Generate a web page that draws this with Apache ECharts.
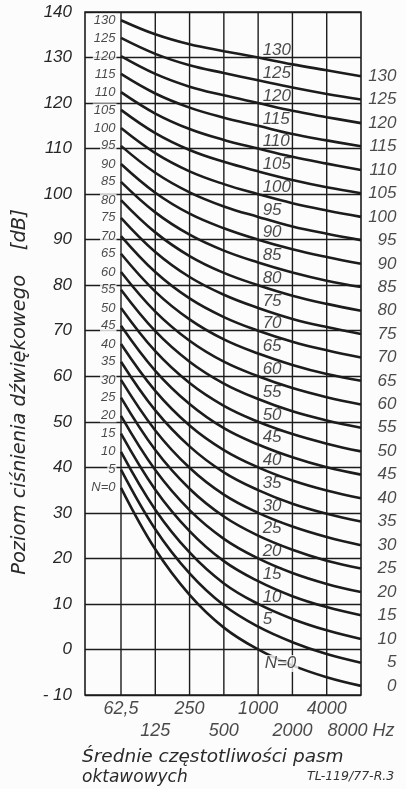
<!DOCTYPE html>
<html><head><meta charset="utf-8">
<script src="https://cdn.jsdelivr.net/npm/echarts@6/dist/echarts.min.js"></script>
<style>html,body{margin:0;padding:0;background:#fcfcfc}#c{width:406px;height:789px}</style>
</head><body><div id="c"></div><script>
// Octave band centre frequencies (x categories)
const freqLabels = ['62,5', '125', '250', '500', '1000', '2000', '4000', '8000 Hz'];
// Noise rating numbers of the curves
const nLevels = [0, 5, 10, 15, 20, 25, 30, 35, 40, 45, 50, 55, 60, 65, 70, 75, 80, 85, 90, 95, 100, 105, 110, 115, 120, 125, 130];
// Sound pressure level [dB] of each curve at 62.5 ... 8000 Hz
const N0   = [35.5, 22.0, 12.0, 4.8, 0, -3.5, -6.1, -8.0];
const N5   = [39.5, 26.4, 16.7, 9.7, 5, 1.6, -1.0, -2.9];
const N10  = [43.4, 30.7, 21.3, 14.5, 10, 6.7, 4.2, 2.3];
const N15  = [47.4, 35.1, 26.0, 19.4, 15, 11.7, 9.3, 7.5];
const N20  = [51.3, 39.4, 30.6, 24.3, 20, 16.8, 14.4, 12.6];
const N25  = [55.3, 43.8, 35.3, 29.2, 25, 21.9, 19.5, 17.8];
const N30  = [59.2, 48.1, 39.9, 34.0, 30, 27.0, 24.7, 22.9];
const N35  = [63.2, 52.5, 44.6, 38.9, 35, 32.0, 29.8, 28.1];
const N40  = [67.1, 56.8, 49.2, 43.8, 40, 37.1, 34.9, 33.2];
const N45  = [71.1, 61.2, 53.9, 48.6, 45, 42.2, 40.0, 38.4];
const N50  = [75.0, 65.5, 58.5, 53.5, 50, 47.3, 45.2, 43.5];
const N55  = [79.0, 69.9, 63.2, 58.4, 55, 52.3, 50.3, 48.7];
const N60  = [82.9, 74.2, 67.8, 63.2, 60, 57.4, 55.4, 53.8];
const N65  = [86.9, 78.6, 72.5, 68.1, 65, 62.5, 60.5, 59.0];
const N70  = [90.8, 82.9, 77.1, 73.0, 70, 67.6, 65.7, 64.1];
const N75  = [94.8, 87.3, 81.8, 77.9, 75, 72.6, 70.8, 69.3];
const N80  = [98.7, 91.6, 86.4, 82.7, 80, 77.7, 75.9, 74.4];
const N85  = [102.7, 96.0, 91.1, 87.6, 85, 82.8, 81.0, 79.6];
const N90  = [106.6, 100.3, 95.7, 92.5, 90, 87.9, 86.2, 84.7];
const N95  = [110.6, 104.7, 100.4, 97.3, 95, 92.9, 91.3, 89.9];
const N100 = [114.5, 109.0, 105.0, 102.2, 100, 98.0, 96.4, 95.0];
const N105 = [118.5, 113.4, 109.7, 107.1, 105, 103.1, 101.5, 100.2];
const N110 = [122.4, 117.7, 114.3, 111.9, 110, 108.2, 106.7, 105.3];
const N115 = [126.4, 122.1, 119.0, 116.8, 115, 113.2, 111.8, 110.5];
const N120 = [130.3, 126.4, 123.6, 121.7, 120, 118.3, 116.9, 115.6];
const N125 = [134.3, 130.8, 128.3, 126.6, 125, 123.4, 122.0, 120.8];
const N130 = [138.2, 135.1, 132.9, 131.4, 130, 128.5, 127.2, 125.9];
const curves = [N0, N5, N10, N15, N20, N25, N30, N35, N40, N45, N50, N55, N60, N65,
  N70, N75, N80, N85, N90, N95, N100, N105, N110, N115, N120, N125, N130];

const yTitle = 'Poziom ciśnienia dźwiękowego    [dB]';
const xTitle1 = 'Średnie częstotliwości pasm';
const xTitle2 = 'oktawowych';
const signature = 'TL-119/77-R.3';

const BG = '#fcfcfc', INK = '#1c1c1c';
const numFont = "'Liberation Sans', Arial, sans-serif";
const txtFont = "'DejaVu Sans', sans-serif";
const curveName = n => (n === 0 ? 'N=0' : String(n));

const series = [];
// vertical grid lines at the band frequencies
freqLabels.slice(0, 7).forEach((_, i) => {
  series.push({ type: 'line', data: [[i, -10], [i, 140]], symbol: 'none', silent: true, z: 1,
    lineStyle: { color: INK, width: 1.4 }, animation: false });
});
// NR curves
curves.forEach((arr, k) => {
  series.push({ type: 'line', name: curveName(nLevels[k]), data: arr.map((v, i) => [i, v]),
    smooth: 0.4, symbol: 'none', silent: true, z: 3, animation: false,
    lineStyle: { color: INK, width: 2.6 } });
});
const hidden = { color: 'rgba(0,0,0,0)' };
// left column labels
series.push({ type: 'scatter', symbolSize: 1, itemStyle: hidden, z: 6, silent: true, animation: false,
  data: curves.map((arr, k) => ({ value: [0, arr[0]], label: { formatter: curveName(nLevels[k]) } })),
  label: { show: true, position: 'left', distance: 4, fontSize: 13, fontStyle: 'italic', fontFamily: numFont,
    color: INK, backgroundColor: BG, padding: [0, 1] } });
// labels on the 1000 Hz line
series.push({ type: 'scatter', symbolSize: 1, itemStyle: hidden, z: 6, silent: true, animation: false,
  data: curves.map((arr, k) => {
    const it = { value: [4, arr[4]], label: { formatter: curveName(nLevels[k]) } };
    if (nLevels[k] === 0) { it.label.offset = [0, 14]; it.label.backgroundColor = BG; it.label.padding = [0, 2]; }
    return it;
  }),
  label: { show: true, position: 'right', distance: 4, offset: [0, -7], fontSize: 17, fontStyle: 'italic',
    fontFamily: numFont, color: INK } });
// right-side labels
series.push({ type: 'scatter', symbolSize: 1, itemStyle: hidden, z: 6, silent: true, animation: false,
  data: curves.map((arr, k) => ({ value: [7, arr[7]], label: { formatter: String(nLevels[k]) } })),
  label: { show: true, position: 'right', distance: 35, align: 'right', fontSize: 17, fontStyle: 'italic',
    fontFamily: numFont, color: INK } });
// x-axis tick labels in two staggered rows
series.push({ type: 'scatter', symbolSize: 1, itemStyle: hidden, z: 6, silent: true, animation: false,
  data: freqLabels.map((t, i) => ({ value: [i, -10], label: { formatter: t, distance: i % 2 ? 26 : 4 } })),
  label: { show: true, position: 'bottom', fontSize: 18, fontStyle: 'italic', fontFamily: numFont, color: INK } });

const chart = echarts.init(document.getElementById('c'), null, { renderer: 'canvas' });
chart.setOption({
  backgroundColor: BG,
  animation: false,
  grid: { left: 85, top: 12, width: 276, height: 683, show: true, borderColor: INK, borderWidth: 1.6,
    backgroundColor: 'transparent', containLabel: false },
  xAxis: { type: 'value', min: -1.05, max: 7, axisLine: { show: false }, axisTick: { show: false },
    axisLabel: { show: false }, splitLine: { show: false } },
  yAxis: { type: 'value', min: -10, max: 140, interval: 10,
    axisLine: { show: false }, axisTick: { show: false },
    axisLabel: { margin: 13, fontSize: 17, fontStyle: 'italic', fontFamily: numFont, color: '#262626',
      formatter: v => (v < 0 ? '- ' + (-v) : String(v)) },
    splitLine: { show: true, lineStyle: { color: INK, width: 1.4 } } },
  series: series,
  graphic: [
    { type: 'text', x: 20, y: 392, rotation: Math.PI / 2, silent: true,
      style: { text: yTitle, fontSize: 19.5, fontStyle: 'italic', fontFamily: txtFont, fill: '#2a2a2a',
        align: 'center', verticalAlign: 'middle' } },
    { type: 'text', x: 82, y: 757, silent: true,
      style: { text: xTitle1, fontSize: 18.5, fontStyle: 'italic', fontFamily: txtFont, fill: '#2a2a2a',
        align: 'left', verticalAlign: 'middle' } },
    { type: 'text', x: 82, y: 778, silent: true,
      style: { text: xTitle2, fontSize: 17, fontStyle: 'italic', fontFamily: txtFont, fill: '#2a2a2a',
        align: 'left', verticalAlign: 'middle' } },
    { type: 'text', x: 307, y: 777, silent: true,
      style: { text: signature, fontSize: 12.5, fontStyle: 'italic', fontFamily: txtFont, fill: '#333',
        align: 'left', verticalAlign: 'middle' } }
  ]
});
</script></body></html>
